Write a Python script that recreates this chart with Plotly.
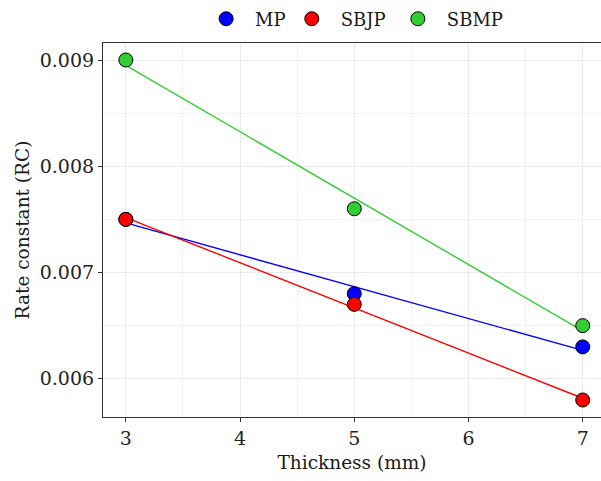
import numpy as np
import plotly.graph_objects as go

# Rate constant vs. sample thickness for three formulations
thickness = [3, 5, 7]
series_names = ["MP", "SBJP", "SBMP"]
mp_rc = [0.0075, 0.0068, 0.0063]
sbjp_rc = [0.0075, 0.0067, 0.0058]
sbmp_rc = [0.0090, 0.0076, 0.0065]
series_values = [mp_rc, sbjp_rc, sbmp_rc]
colors = ["#0000FF", "#FF0000", "#32CD32"]

x_ticks = [3, 4, 5, 6, 7]
y_ticks = [0.006, 0.007, 0.008, 0.009]
y_tick_labels = ["0.006", "0.007", "0.008", "0.009"]

FONT = "DejaVu Serif"

fig = go.Figure()

# least-squares trend line for each series
for name, vals, col in zip(series_names, series_values, colors):
    slope, intercept = np.polyfit(thickness, vals, 1)
    xs = np.array([min(thickness), max(thickness)], dtype=float)
    fig.add_trace(go.Scatter(
        x=xs, y=slope * xs + intercept, mode="lines",
        line=dict(color=col, width=1.4), showlegend=False, hoverinfo="skip",
    ))

# one legend box per series so the key entries sit on a single row above the panel
legend_ids = ["legend", "legend2", "legend3"]
legend_x = [0.189, 0.361, 0.574]
for name, vals, col, lid in zip(series_names, series_values, colors, legend_ids):
    fig.add_trace(go.Scatter(
        x=thickness, y=vals, mode="markers", name=name, legend=lid,
        marker=dict(color=col, size=14, line=dict(color="black", width=1)),
    ))

legend_style = dict(orientation="h", xanchor="left", y=1.064, yanchor="middle",
                    itemwidth=48, font=dict(size=18), bgcolor="rgba(0,0,0,0)")
legends = {lid: dict(legend_style, x=lx) for lid, lx in zip(legend_ids, legend_x)}

grid_col = "#ebebeb"
fig.update_layout(
    width=601, height=481,
    margin=dict(l=103, r=0, t=43, b=64),
    paper_bgcolor="white", plot_bgcolor="white",
    font=dict(family=FONT, size=18.5, color="#1a1a1a"),
    xaxis=dict(
        range=[2.8, 7.16], tickvals=x_ticks, ticktext=[str(v) for v in x_ticks],
        showgrid=True, gridcolor=grid_col, gridwidth=1.2,
        minor=dict(dtick=0.5, tick0=2.5, showgrid=True, gridcolor="#f3f3f3", gridwidth=0.8),
        showline=True, linecolor="#333333", linewidth=1.2, mirror=True,
        ticks="outside", ticklen=4, tickcolor="#333333",
        tickfont=dict(size=19, color="#222222"), zeroline=False,
        title=dict(text="Thickness (mm)", font=dict(size=18.5), standoff=8),
    ),
    yaxis=dict(
        range=[0.00564, 0.00916], tickvals=y_ticks, ticktext=y_tick_labels,
        showgrid=True, gridcolor=grid_col, gridwidth=1.2,
        minor=dict(dtick=0.0005, tick0=0.0055, showgrid=True, gridcolor="#f3f3f3", gridwidth=0.8),
        showline=True, linecolor="#333333", linewidth=1.2,
        ticks="outside", ticklen=4, tickcolor="#333333",
        tickfont=dict(size=19, color="#222222"), zeroline=False,
        title=dict(text="Rate constant (RC)", font=dict(size=18.5), standoff=5),
    ),
    **legends,
)

fig.write_html("out.html")
